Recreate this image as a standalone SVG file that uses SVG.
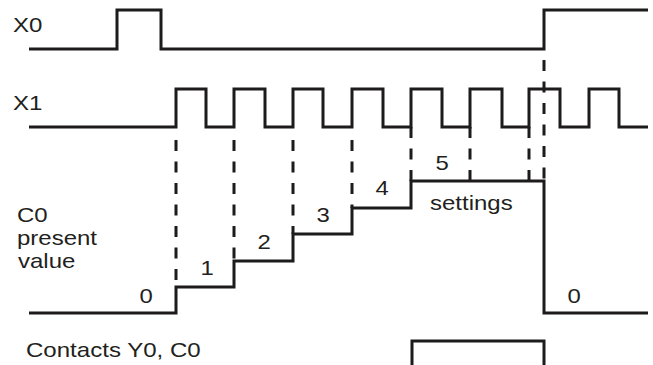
<svg xmlns="http://www.w3.org/2000/svg" width="653" height="365" viewBox="0 0 653 365">
<style>
.sig{fill:none;stroke:#1d1b1b;stroke-width:3;stroke-linejoin:miter;stroke-linecap:butt}
.dash{fill:none;stroke:#1d1b1b;stroke-width:3;stroke-dasharray:11 10.5}
text{font-family:"Liberation Sans",Arial,sans-serif;font-size:21px;fill:#231f20}
</style>
<rect width="653" height="365" fill="#ffffff"/>
<g id="x0">
<text x="13" y="32" textLength="29.4" lengthAdjust="spacingAndGlyphs">X0</text>
<path class="sig" d="M29,49 H117 V10 H161 V49 H544 V10 H648"/>
</g>
<g id="x1">
<text x="13" y="110" textLength="29.4" lengthAdjust="spacingAndGlyphs">X1</text>
<path class="sig" d="M29,127 H176 V89 H206 V127 H234 V89 H265 V127 H293 V89 H323 V127 H352 V89 H383 V127 H411 V89 H442 V127 H470 V89 H502 V127 H529 V89 H560 V127 H589 V89 H619 V127 H648"/>
</g>
<g id="c0">
<text x="17" y="222" textLength="30.7" lengthAdjust="spacingAndGlyphs">C0</text>
<text x="17" y="245" textLength="80" lengthAdjust="spacingAndGlyphs">present</text>
<text x="18" y="268" textLength="57.4" lengthAdjust="spacingAndGlyphs">value</text>
<path class="sig" d="M29,313 H176 V287 H234 V261 H293 V234 H352 V208 H411 V181 H544 V313 H648"/>
<text x="139.4" y="303" textLength="13.3" lengthAdjust="spacingAndGlyphs">0</text>
<text x="200.5" y="275" textLength="13.3" lengthAdjust="spacingAndGlyphs">1</text>
<text x="257.4" y="249" textLength="13.3" lengthAdjust="spacingAndGlyphs">2</text>
<text x="316.4" y="222" textLength="13.3" lengthAdjust="spacingAndGlyphs">3</text>
<text x="375.4" y="195" textLength="13.3" lengthAdjust="spacingAndGlyphs">4</text>
<text x="435.4" y="170" textLength="13.3" lengthAdjust="spacingAndGlyphs">5</text>
<text x="430" y="210" textLength="82.7" lengthAdjust="spacingAndGlyphs">settings</text>
<text x="567.4" y="303" textLength="13.3" lengthAdjust="spacingAndGlyphs">0</text>
</g>
<g id="contacts">
<text x="26" y="357" textLength="174.7" lengthAdjust="spacingAndGlyphs">Contacts Y0, C0</text>
<path class="sig" d="M412,365 V341 H544 V365"/>
</g>
<g id="connectors">
<path class="dash" d="M176,140 V287"/>
<path class="dash" d="M234,140 V261"/>
<path class="dash" d="M293,140 V234"/>
<path class="dash" d="M352,140 V208"/>
<path class="dash" d="M411,181 V127"/>
<path class="dash" d="M470,181 V127"/>
<path class="dash" d="M529,181 V127"/>
<path class="dash" d="M544,60 V181"/>
</g>
</svg>
